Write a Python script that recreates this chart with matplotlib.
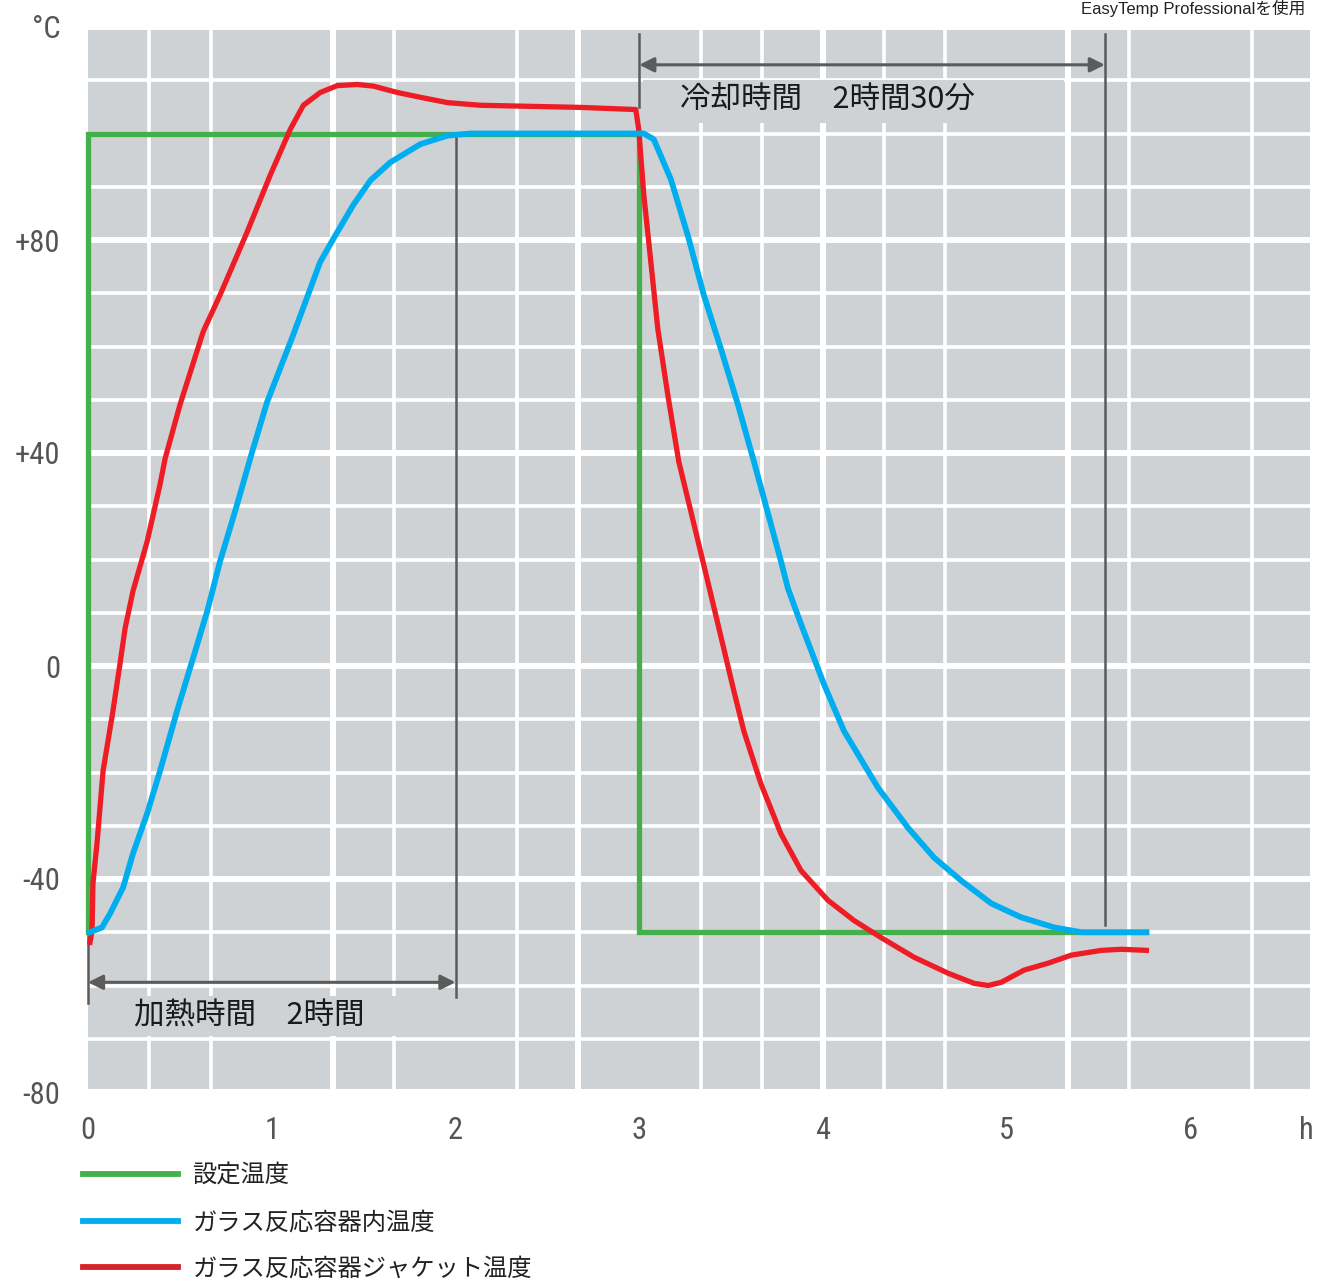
import matplotlib
matplotlib.use("Agg")
import matplotlib.pyplot as plt
from matplotlib import font_manager
from matplotlib.lines import Line2D
from matplotlib.patches import Rectangle
import numpy as np

# set temperature (green)
set_x = [0.0, 0.0, 3.0, 3.0, 5.76]
set_y = [-50, 100, 100, -50, -50]

# temperature inside the glass reactor (blue)
inner_x = [0.01, 0.076, 0.12, 0.191, 0.245, 0.322, 0.392, 0.485, 0.572, 0.649, 0.719,
           0.812, 0.894, 0.975, 1.117, 1.264, 1.335, 1.444, 1.537, 1.646, 1.809, 1.956,
           2.082, 3.025, 3.079, 3.172, 3.264, 3.351, 3.444, 3.537, 3.624, 3.771, 3.809,
           3.88, 4.005, 4.114, 4.3, 4.463, 4.605, 4.752, 4.916, 5.079, 5.259, 5.406, 5.76]
inner_y = [-50, -49.1, -46.5, -41.6, -35.2, -27.7, -19.7, -8.4, 1.5, 10.3, 19.7,
           30.4, 40.3, 49.6, 62.2, 75.9, 80.2, 86.6, 91.2, 94.6, 98.0, 99.6,
           100, 100, 98.9, 91.4, 80.9, 69.7, 59.6, 49.1, 38.4, 19.7, 14.6,
           7.9, -3.4, -12.2, -22.9, -30.4, -36.0, -40.3, -44.6, -47.2, -49.1, -50, -50]

# jacket temperature (red)
jacket_x = [0.011, 0.022, 0.027, 0.049, 0.082, 0.136, 0.174, 0.202, 0.245, 0.322, 0.392,
            0.42, 0.501, 0.627, 0.719, 0.866, 0.992, 1.101, 1.172, 1.264, 1.357, 1.466,
            1.553, 1.684, 1.809, 1.956, 2.136, 2.681, 2.981, 2.997, 3.025, 3.063, 3.101,
            3.155, 3.215, 3.281, 3.346, 3.428, 3.515, 3.569, 3.662, 3.771, 3.88, 4.027,
            4.169, 4.316, 4.496, 4.681, 4.823, 4.899, 4.97, 5.095, 5.226, 5.351, 5.515,
            5.624, 5.76]
jacket_y = [-51.9, -49.6, -40.8, -33.3, -19.7, -8.4, 0.4, 7.1, 14.1, 23.4, 34.1,
            39.0, 49.1, 62.8, 69.7, 81.5, 92.2, 100.8, 105.3, 107.7, 109.0, 109.2,
            108.9, 107.7, 106.8, 105.8, 105.3, 104.9, 104.5, 100.8, 88.4, 75.9, 63.3,
            51.0, 38.4, 29.0, 19.7, 7.9, -4.7, -12.2, -22.1, -31.5, -38.4, -44.0,
            -47.8, -51.0, -54.7, -57.7, -59.6, -60.0, -59.4, -57.1, -55.8, -54.3, -53.4,
            -53.2, -53.4]

x_ticks = [0, 1, 2, 3, 4, 5, 6, 6.63]
x_labels = ["0", "1", "2", "3", "4", "5", "6", "h"]
y_ticks = [-80, -40, 0, 40, 80, 120]
y_labels = ["-80", "-40", "0", "+40", "+80", "°C"]

legend_labels = ["設定温度", "ガラス反応容器内温度", "ガラス反応容器ジャケット温度"]
heat_text = "加熱時間\u30002時間"
cool_text = "冷却時間\u30002時間30分"
heat_span = (0, 2)
cool_span = (3, 5.534)
note_text = "EasyTemp Professionalを使用"

GREEN = "#43b04a"
BLUE = "#00aeef"
RED = "#ee1c25"
BG = "#cfd2d5"
DARK = "#5b5b5b"

installed = {f.name for f in font_manager.fontManager.ttflist}
num_font = "DejaVu Sans"
for cand in ["Liberation Sans Narrow", "Roboto Condensed", "Open Sans Condensed", "Noto Sans"]:
    if cand in installed:
        num_font = cand
        break
cjk = ["Noto Sans CJK JP", "DejaVu Sans"]
plt.rcParams["font.family"] = cjk

fig = plt.figure(figsize=(13.24, 12.84), dpi=100)
ax = fig.add_axes([88 / 1324, 192 / 1284, 1225 / 1324, 1065 / 1284])
ax.set_facecolor(BG)
for s in ax.spines.values():
    s.set_visible(False)
ax.set_xlim(0, 20 / 3)
ax.set_ylim(-80, 120)
ax.set_axisbelow(True)

# grid paper: thin white lines every cell, thick every 4 cells
ax.set_xticks(np.arange(0, 20 / 3 + 0.01, 1 / 3), minor=True)
ax.set_yticks(np.arange(-80, 121, 10), minor=True)
ax.grid(which="minor", color="white", lw=2.6)
ax.set_yticks(y_ticks)
ax.set_yticklabels(y_labels)
ax.yaxis.grid(which="major", color="white", lw=4.3)
ax.xaxis.grid(which="major", visible=False)
for xv in np.arange(4 / 3, 20 / 3, 4 / 3):
    ax.axvline(xv, color="white", lw=4.3, zorder=0.6)
ax.set_xticks(x_ticks)
ax.set_xticklabels(x_labels)
ax.tick_params(which="both", length=0)
ax.tick_params(axis="y", pad=20, labelsize=22, labelcolor="#555555")
ax.tick_params(axis="x", pad=17, labelsize=22, labelcolor="#555555")
for lab in ax.get_xticklabels() + ax.get_yticklabels():
    lab.set_family(num_font)

# label boxes that hide the grid behind the text
ax.add_patch(Rectangle((heat_span[0], -69.5), heat_span[1] - heat_span[0], 7.5,
                       facecolor=BG, edgecolor="none", zorder=1.5))
ax.add_patch(Rectangle((cool_span[0] + 0.02, 102), 2.29, 8,
                       facecolor=BG, edgecolor="none", zorder=1.5))

# span markers
ax.plot([heat_span[0]] * 2, [-50, -63.3], color=DARK, lw=1.8, zorder=1.8, clip_on=False)
ax.plot([heat_span[1]] * 2, [99.3, -62.2], color=DARK, lw=1.8, zorder=1.8)
ax.plot([cool_span[0]] * 2, [118.6, 105.0], color=DARK, lw=1.8, zorder=1.8)
ax.plot([cool_span[1]] * 2, [118.6, -48.7], color=DARK, lw=1.8, zorder=1.8)
arrow = dict(arrowstyle="<|-|>", mutation_scale=22, lw=2.2, color=DARK,
             shrinkA=0, shrinkB=0)
ax.annotate("", xy=(heat_span[0], -59.4), xytext=(heat_span[1], -59.4),
            arrowprops=arrow, zorder=1.8)
ax.annotate("", xy=(cool_span[0], 112.9), xytext=(cool_span[1], 112.9),
            arrowprops=arrow, zorder=1.8)
ax.text(0.25, -65.8, heat_text, fontsize=22, color="#1a1a1a", va="center", zorder=3)
ax.text(3.22, 106.4, cool_text, fontsize=22, color="#1a1a1a", va="center", zorder=3)

# curves
ax.plot(set_x, set_y, color=GREEN, lw=3.8, zorder=2, clip_on=False, solid_joinstyle="miter")
ax.plot(jacket_x, jacket_y, color=RED, lw=3.8, zorder=2.2, clip_on=False)
ax.plot(inner_x, inner_y, color=BLUE, lw=4.2, zorder=2.4, clip_on=False)

handles = [Line2D([], [], color=GREEN, lw=4.2),
           Line2D([], [], color=BLUE, lw=4.2),
           Line2D([], [], color="#d9232b", lw=4.2)]
fig.legend(handles, legend_labels, loc="upper left", bbox_to_anchor=(83 / 1324, 1 - 1163 / 1284),
           frameon=False, fontsize=17.5, handlelength=3.9, handletextpad=0.6,
           labelspacing=0.84, borderpad=0, borderaxespad=0, labelcolor="#222222")

fig.text(1305 / 1324, 1.0, note_text, ha="right", va="top", fontsize=12,
         color="#222222", family=["Liberation Sans", "Noto Sans CJK JP"])

fig.savefig("out.png", dpi=100, facecolor="white")
